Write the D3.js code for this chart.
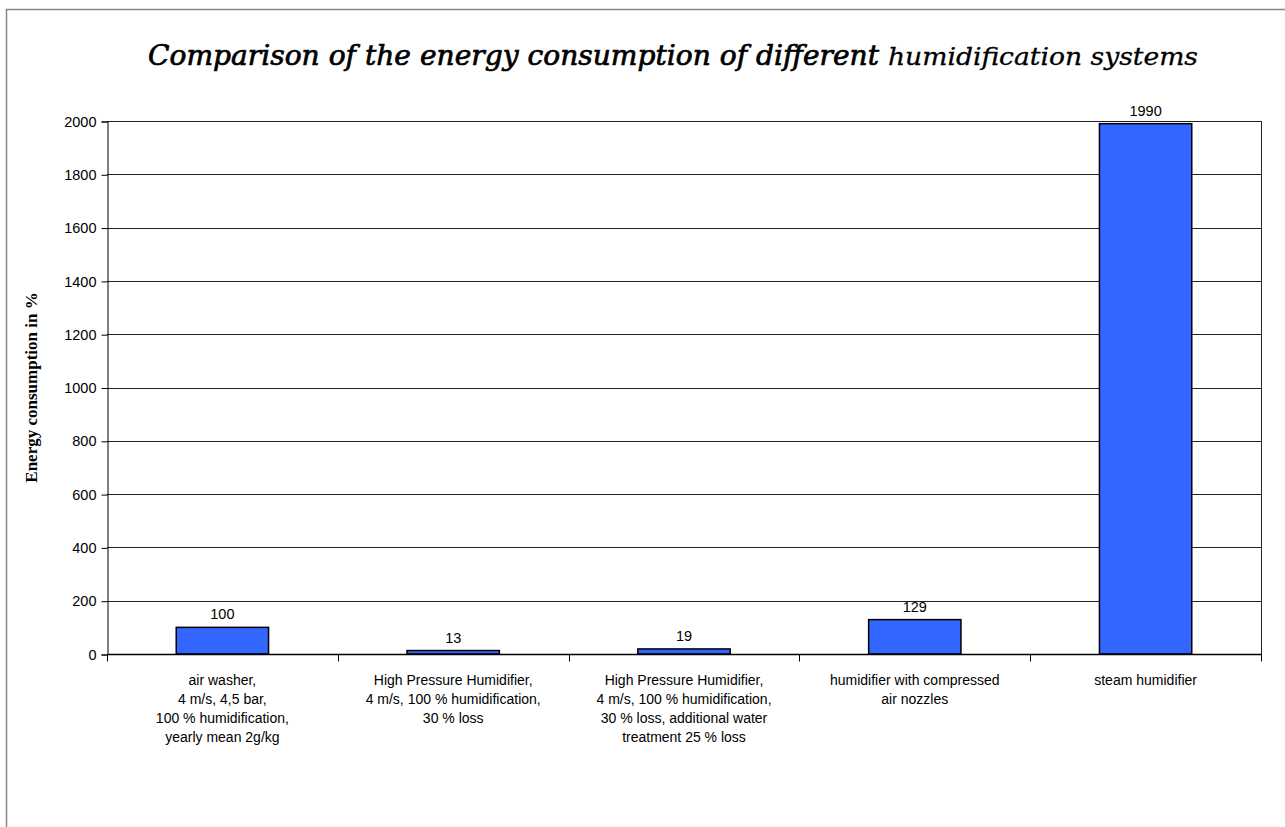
<!DOCTYPE html>
<html>
<head>
<meta charset="utf-8">
<script src="https://cdn.jsdelivr.net/npm/d3@7"></script>
<style>
  body { margin: 0; background: #fff; }
  svg { display: block; }
</style>
</head>
<body>
<svg id="chart" width="1285" height="827"></svg>
<script>
// data
const categories = [
  ["air washer,", "4 m/s, 4,5 bar,", "100 % humidification,", "yearly mean 2g/kg"],
  ["High Pressure Humidifier,", "4 m/s, 100 % humidification,", "30 % loss"],
  ["High Pressure Humidifier,", "4 m/s, 100 % humidification,", "30 % loss,  additional water", "treatment 25 % loss"],
  ["humidifier with compressed", "air nozzles"],
  ["steam humidifier"]
]
const values = [100, 13, 19, 129, 1990]
const yTicks = [0, 200, 400, 600, 800, 1000, 1200, 1400, 1600, 1800, 2000]
const titleParts = ['Comparison of the energy consumption of different', 'humidification systems']

const svg = d3.select('#chart')
const plotL = 107, plotR = 1261, plotT = 121, plotB = 654

// outer frame
svg.append('rect')
  .attr('x', 6.5).attr('y', 9.5)
  .attr('width', 1300).attr('height', 900)
  .attr('fill', 'none').attr('stroke', '#888').attr('stroke-width', 1.5)

// title, slab serif italic, second half a bit smaller
svg.append('text')
  .attr('x', 148).attr('y', 65)
  .attr('textLength', 731).attr('lengthAdjust', 'spacingAndGlyphs')
  .style('font-family', 'DejaVu Serif, serif')
  .style('font-style', 'italic')
  .style('font-size', '27px')
  .attr('stroke', '#000').attr('stroke-width', 0.7)
  .text(titleParts[0])
svg.append('text')
  .attr('x', 888).attr('y', 65)
  .attr('textLength', 310).attr('lengthAdjust', 'spacingAndGlyphs')
  .style('font-family', 'DejaVu Serif, serif')
  .style('font-style', 'italic')
  .style('font-size', '24px')
  .attr('stroke', '#000').attr('stroke-width', 0.3)
  .text(titleParts[1])

const x = d3.scaleBand()
  .domain(d3.range(values.length))
  .range([plotL, plotR])
  .paddingInner(0.6).paddingOuter(0.3)

const xCat = d3.scaleBand().domain(d3.range(values.length)).range([plotL, plotR])

const y = d3.scaleLinear().domain([0, 2000]).range([plotB, plotT])

// gridlines
svg.append('g')
  .selectAll('line')
  .data(yTicks.filter(d => d > 0))
  .enter()
  .append('line')
  .attr('x1', plotL).attr('x2', plotR)
  .attr('y1', d => Math.round(y(d)) + 0.5)
  .attr('y2', d => Math.round(y(d)) + 0.5)
  .attr('stroke', '#222').attr('stroke-width', 1)

// right frame line
svg.append('line')
  .attr('x1', plotR + 0.5).attr('x2', plotR + 0.5)
  .attr('y1', plotT).attr('y2', plotB)
  .attr('stroke', '#222')

// y axis
const yAxis = svg.append('g')
  .attr('transform', `translate(${plotL + 0.5},0.5)`)
  .call(d3.axisLeft(y).tickValues(yTicks).tickFormat(d3.format('d')).tickSize(6).tickPadding(5))
yAxis.select('.domain').attr('stroke', '#000')
yAxis.selectAll('.tick line').attr('stroke', '#000')
yAxis.selectAll('text')
  .style('font-family', 'Liberation Sans, Arial, sans-serif')
  .style('font-size', '14.5px')
  .attr('fill', '#000')

// y label
svg.append('text')
  .attr('transform', `translate(37,${(plotT + plotB) / 2}) rotate(-90)`)
  .attr('text-anchor', 'middle')
  .style('font-family', 'Liberation Serif, Times New Roman, serif')
  .style('font-weight', 'bold')
  .style('font-size', '17px')
  .text('Energy consumption in %')

// bars
svg.append('g')
  .selectAll('rect')
  .data(values)
  .enter()
  .append('rect')
  .attr('x', (d, i) => x(i))
  .attr('y', d => y(d))
  .attr('width', x.bandwidth())
  .attr('height', d => plotB - y(d))
  .attr('fill', '#3366ff')
  .attr('stroke', '#000')
  .attr('stroke-width', 1.5)

// value labels
svg.append('g')
  .selectAll('text')
  .data(values)
  .enter()
  .append('text')
  .attr('x', (d, i) => x(i) + x.bandwidth() / 2)
  .attr('y', d => y(d) - 8)
  .attr('text-anchor', 'middle')
  .style('font-family', 'Liberation Sans, Arial, sans-serif')
  .style('font-size', '14.5px')
  .text(d => d)

// x axis with category separators
const xAxis = svg.append('g')
  .attr('transform', `translate(0,${plotB + 0.5})`)
xAxis.append('line')
  .attr('x1', plotL).attr('x2', plotR + 1)
  .attr('stroke', '#000').attr('stroke-width', 1.5)
xAxis.selectAll('.sep')
  .data(d3.range(values.length + 1))
  .enter()
  .append('line')
  .attr('class', 'sep')
  .attr('x1', i => Math.round(plotL + i * xCat.step()) + 0.5)
  .attr('x2', i => Math.round(plotL + i * xCat.step()) + 0.5)
  .attr('y1', 0).attr('y2', 7)
  .attr('stroke', '#000')

// category labels
const catG = svg.append('g')
catG.selectAll('text')
  .data(categories)
  .enter()
  .append('text')
  .attr('x', (d, i) => xCat(i) + xCat.bandwidth() / 2)
  .attr('y', plotB + 31)
  .attr('text-anchor', 'middle')
  .style('font-family', 'Liberation Sans Narrow, Arial Narrow, Liberation Sans, sans-serif')
  .style('font-size', '14px')
  .each(function (lines) {
    const t = d3.select(this)
    lines.forEach((l, k) => {
      t.append('tspan')
        .attr('x', t.attr('x'))
        .attr('dy', k === 0 ? 0 : 19)
        .text(l)
    })
  })
</script>
</body>
</html>
